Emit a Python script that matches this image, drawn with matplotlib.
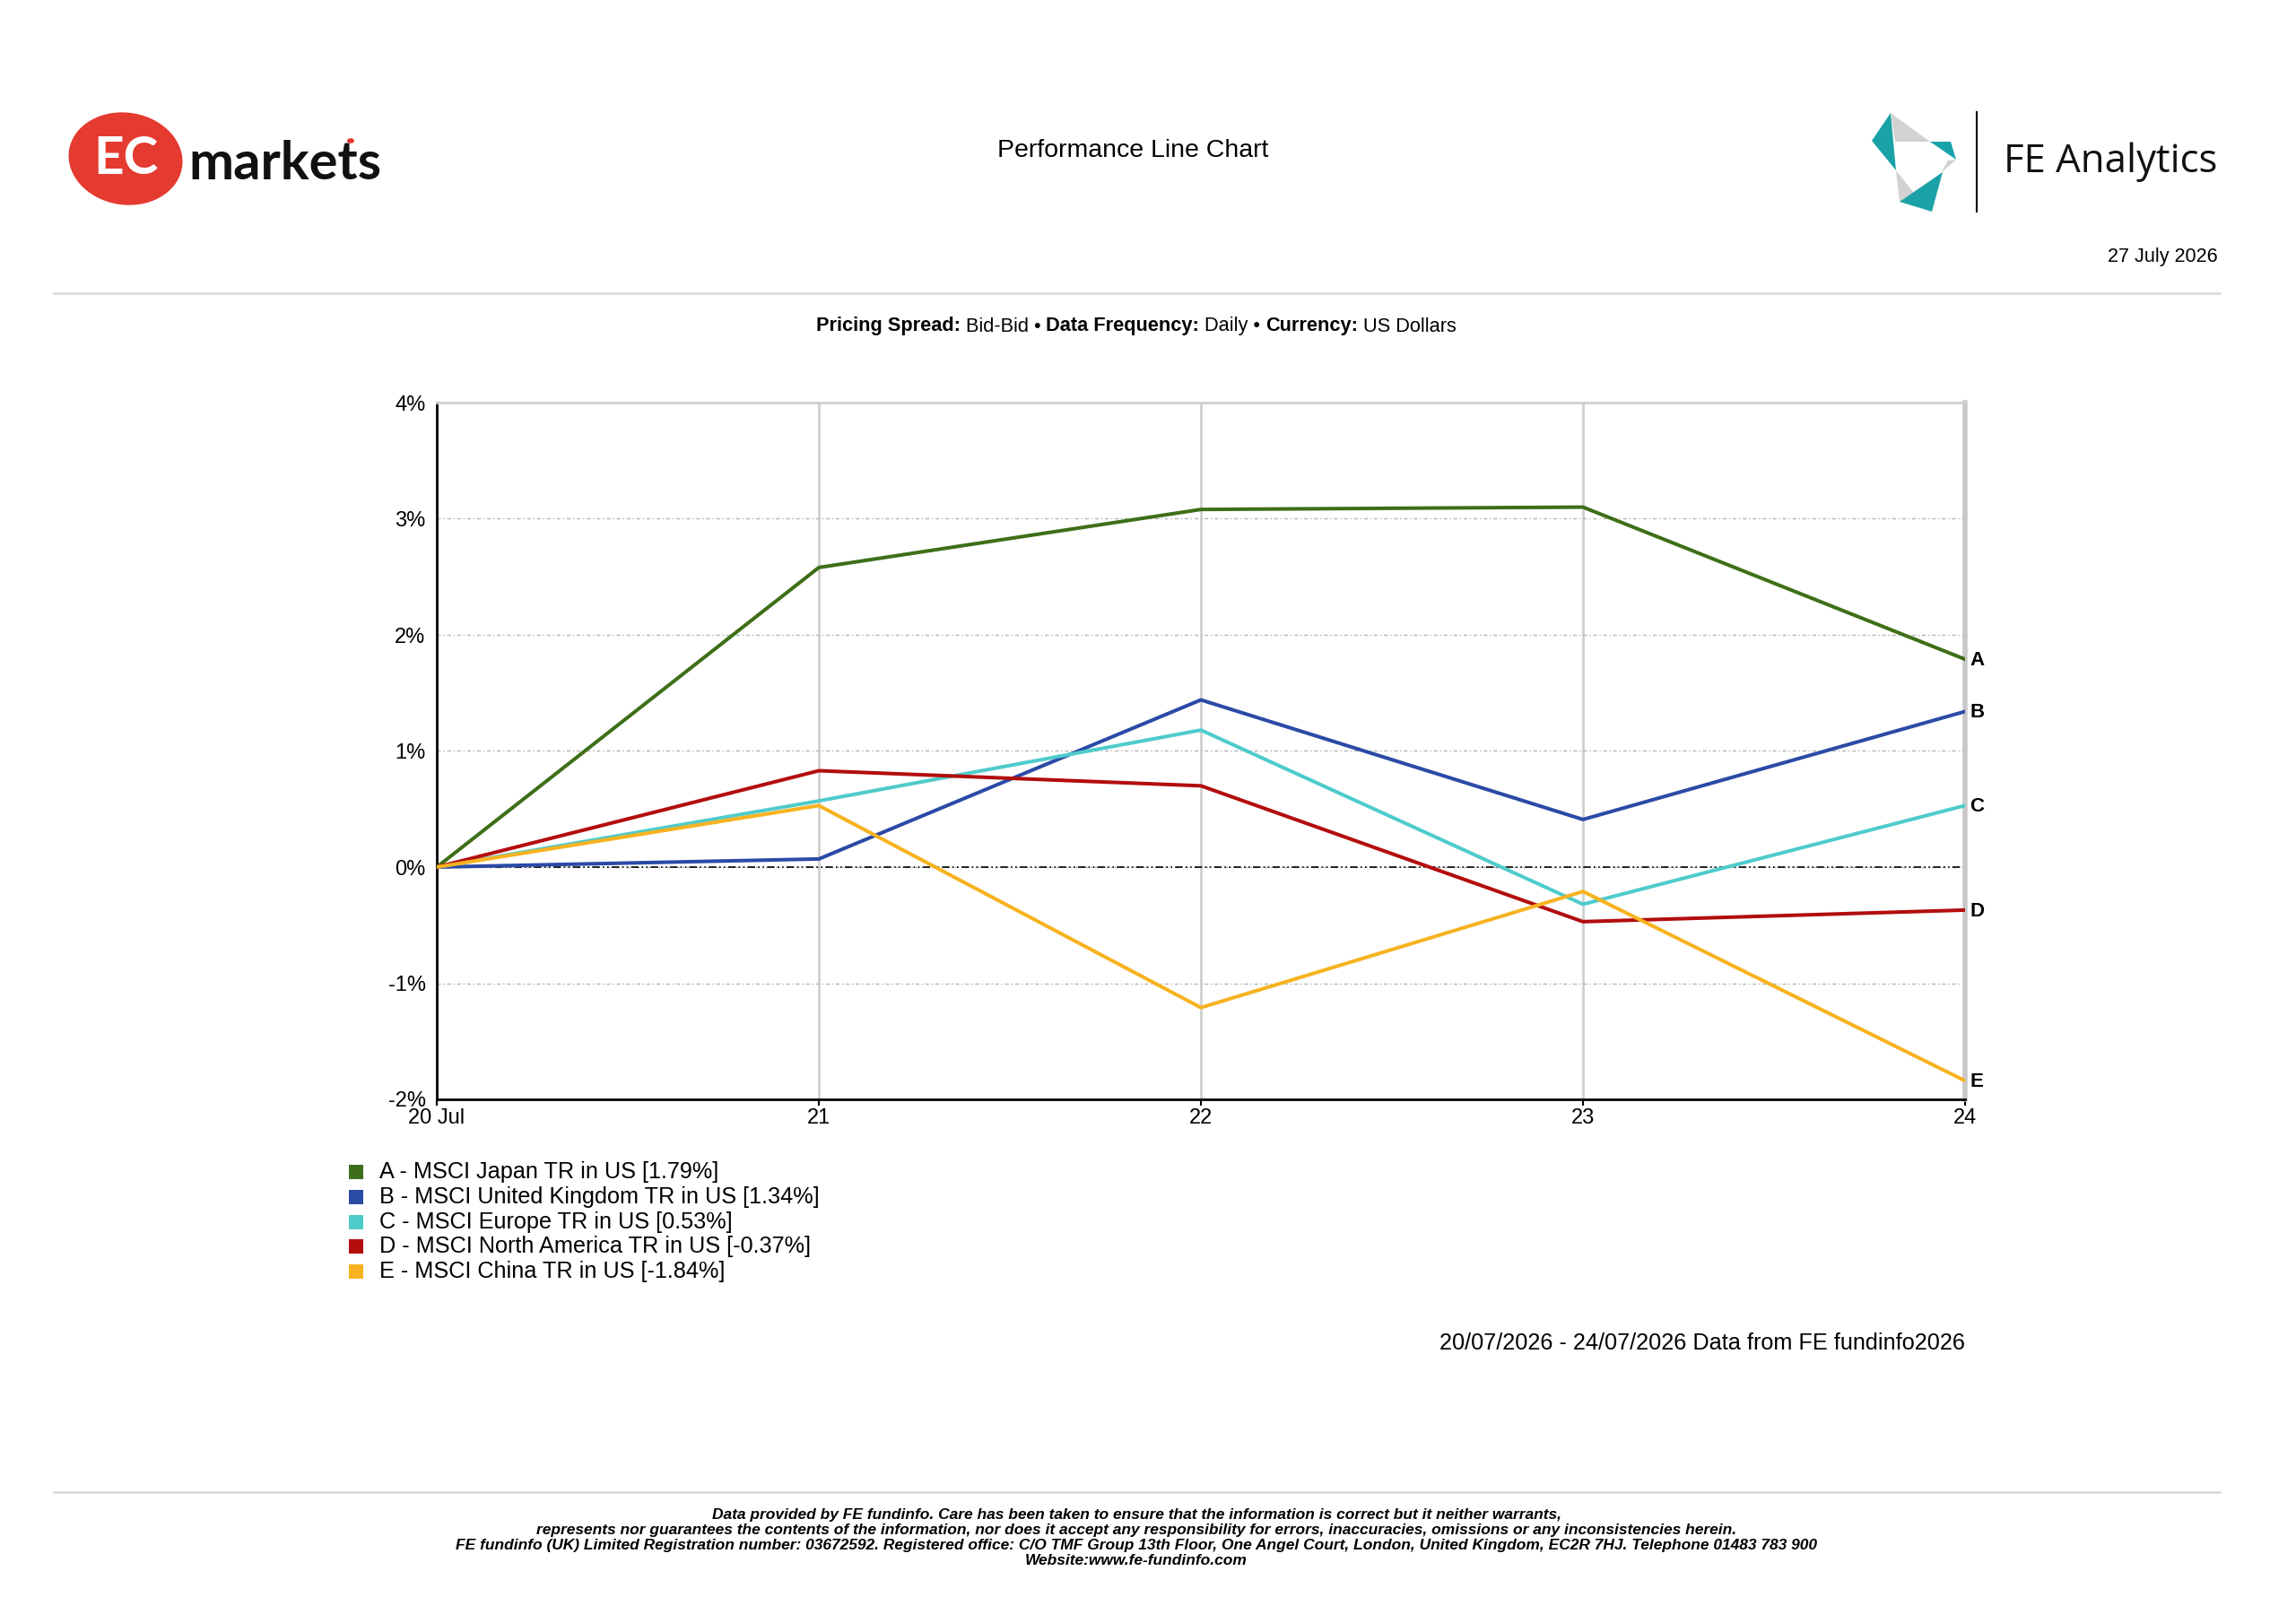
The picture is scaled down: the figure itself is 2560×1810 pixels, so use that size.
import numpy as np
import matplotlib
matplotlib.use("Agg")
import matplotlib.pyplot as plt
from matplotlib.patches import Rectangle, Ellipse, Polygon, Circle
from matplotlib.lines import Line2D

plt.rcParams["font.family"] = ["Liberation Sans", "DejaVu Sans"]

# data
dates = ["20 Jul", "21", "22", "23", "24"]
letters = ["A", "B", "C", "D", "E"]
names = ["MSCI Japan TR in US", "MSCI United Kingdom TR in US", "MSCI Europe TR in US",
         "MSCI North America TR in US", "MSCI China TR in US"]
japan = [0.0, 2.58, 3.08, 3.10, 1.79]
uk = [0.0, 0.07, 1.44, 0.41, 1.34]
europe = [0.0, 0.57, 1.18, -0.32, 0.53]
north_america = [0.0, 0.83, 0.70, -0.47, -0.37]
china = [0.0, 0.53, -1.21, -0.21, -1.84]
series = [japan, uk, europe, north_america, china]
colors = ["#3e6f18", "#2a4aa6", "#4fcbcb", "#b30d0d", "#f7b21f"]
yticks = [-2, -1, 0, 1, 2, 3, 4]

W, H = 2560, 1810
fig = plt.figure(figsize=(W / 100, H / 100), dpi=100)


def px(x, y):
    # full-size pixel (from top-left) -> figure fraction
    return x / W, 1 - y / H


# ---- header: EC markets logo
fig.add_artist(Ellipse(px(140, 177), 126 / W, 104 / H, angle=12, transform=fig.transFigure,
                       color="#e43a2f", lw=0))
fig.text(*px(140, 178), "EC", color="white", fontsize=42, fontweight="bold",
         ha="center", va="center", family=["Lato", "Liberation Sans"])
fig.text(*px(210, 200), "markets", color="#111111", fontsize=43, fontweight="bold",
         ha="left", va="baseline", family=["Lato", "Liberation Sans"])
fig.add_artist(Circle(px(391, 157), 4 / W, transform=fig.transFigure, color="#e43a2f", lw=0))

# ---- header: FE Analytics logo
teal, grey = "#1ba2a8", "#d2d2d2"
tris = [
    ([(2087, 157), (2108, 126), (2114, 190)], teal),
    ([(2108, 126), (2152, 158), (2113, 158)], grey),
    ([(2152, 158), (2175, 158), (2181, 178)], teal),
    ([(2181, 178), (2164, 193), (2172, 179)], grey),
    ([(2114, 190), (2118, 225), (2134, 215)], grey),
    ([(2118, 225), (2166, 192), (2154, 236)], teal),
]
for pts, c in tris:
    fig.add_artist(Polygon([px(x, y) for x, y in pts], closed=True,
                           transform=fig.transFigure, color=c, lw=0))
fig.add_artist(Line2D([2204 / W] * 2, [1 - 125 / H, 1 - 236 / H], transform=fig.transFigure,
                      color="black", lw=1.5))
fig.text(*px(2234, 192), "FE Analytics", fontsize=31.5, ha="left", va="baseline",
         family=["Open Sans", "Liberation Sans"], color="#111111")

fig.text(*px(1263, 168), "Performance Line Chart", fontsize=20.5, ha="center", va="center")
fig.text(*px(2473, 292), "27 July 2026", fontsize=15.5, ha="right", va="baseline")

for yy in (327, 1664):
    fig.add_artist(Line2D([60 / W, 2475 / W], [1 - yy / H] * 2, transform=fig.transFigure,
                          color="#d9d9d9", lw=1.8))

# ---- subtitle with mixed weights
pieces = [("Pricing Spread:", "bold"), (" Bid-Bid \u2022 ", "normal"),
          ("Data Frequency:", "bold"), (" Daily \u2022 ", "normal"),
          ("Currency:", "bold"), (" US Dollars", "normal")]
renderer = fig.canvas.get_renderer()
objs = []
for s, wgt in pieces:
    t = fig.text(0, 1 - 364 / H, s, fontsize=15.7, fontweight=wgt, va="center", ha="left")
    objs.append(t)
widths = [t.get_window_extent(renderer).width for t in objs]
x0 = 1267 - sum(widths) / 2
for t, w in zip(objs, widths):
    t.set_x(x0 / W)
    x0 += w

# ---- chart
ax = fig.add_axes([487 / W, 1 - 1226 / H, (2191 - 487) / W, (1226 - 449) / H])
x = np.arange(len(dates))
for vals, c, let in zip(series, colors, letters):
    ax.plot(x, vals, color=c, lw=2.9, zorder=3)
    ax.annotate(let, xy=(x[-1], vals[-1]), xytext=(4, -1), textcoords="offset points",
                fontsize=16, fontweight="bold", va="center", ha="left",
                annotation_clip=False)

ax.set_xlim(0, len(dates) - 1)
ax.set_ylim(yticks[0], yticks[-1])
ax.set_xticks(x)
ax.set_xticklabels(dates, fontsize=17)
ax.set_yticks(yticks)
ax.set_yticklabels([f"{v}%" for v in yticks], fontsize=17)
ax.tick_params(axis="y", length=0, pad=9)
ax.tick_params(axis="x", length=5, width=1.5, direction="out", pad=2)
ax.grid(axis="y", color="#b5b5b5", lw=1.0, linestyle=(0, (3, 2, 1, 2)))
ax.grid(axis="x", color="#d0d0d0", lw=2.0, linestyle="-")
ax.axhline(0, color="black", lw=1.2, linestyle=(0, (5, 2, 1, 2, 1, 2)), zorder=2)
ax.set_axisbelow(True)
ax.spines["top"].set_color("#d0d0d0")
ax.spines["top"].set_linewidth(2)
ax.spines["right"].set_color("#c8c8c8")
ax.spines["right"].set_linewidth(4)
ax.spines["left"].set_linewidth(2)
ax.spines["bottom"].set_linewidth(2)

# ---- legend
for i, (let, name, vals, c) in enumerate(zip(letters, names, series, colors)):
    yc = 1307 + i * 27.8
    fig.add_artist(Rectangle(px(389, yc + 8), 16 / W, 16 / H, transform=fig.transFigure,
                             color=c, lw=0))
    fig.text(*px(423, yc), f"{let} - {name} [{vals[-1]:.2f}%]", fontsize=18.2,
             ha="left", va="center")

fig.text(*px(2191, 1498), "20/07/2026 - 24/07/2026 Data from FE fundinfo2026",
         fontsize=18.2, ha="right", va="center")

# ---- footer
footer = [
    "Data provided by FE fundinfo. Care has been taken to ensure that the information is correct but it neither warrants,",
    "represents nor guarantees the contents of the information, nor does it accept any responsibility for errors, inaccuracies, omissions or any inconsistencies herein.",
    "FE fundinfo (UK) Limited Registration number: 03672592. Registered office: C/O TMF Group 13th Floor, One Angel Court, London, United Kingdom, EC2R 7HJ. Telephone 01483 783 900",
    "Website:www.fe-fundinfo.com",
]
for i, line in enumerate(footer):
    fig.text(*px(1267, 1689 + i * 17.3), line, fontsize=12.5, fontweight="bold",
             fontstyle="italic", ha="center", va="center",
             family=["Liberation Sans Narrow", "Liberation Sans"])

fig.savefig("out.png", dpi=100, facecolor="white")
